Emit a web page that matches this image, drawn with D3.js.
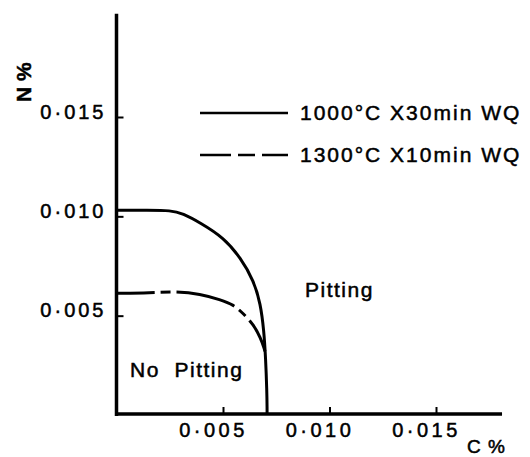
<!DOCTYPE html>
<html>
<head>
<meta charset="utf-8">
<script src="https://cdnjs.cloudflare.com/ajax/libs/d3/7.8.5/d3.min.js"></script>
<style>
body { margin: 0; background: #fff; }
svg text { font-family: "Liberation Sans", Arial, sans-serif; fill: #000; stroke: #000; stroke-width: 0.5px; }
</style>
</head>
<body>
<div id="chart"></div>
<script>
(function(){

var width = 530,
	height = 457;

// tick values
var xTicks = [0.005, 0.010, 0.015],
	yTicks = [0.005, 0.010, 0.015];

// 1000°C x 30 min WQ boundary (C %, N %)
var solidC = [0, 0.0015, 0.00255, 0.0031, 0.00394, 0.00504, 0.00582, 0.00645, 0.00676, 0.00692, 0.0070, 0.00706, 0.00707, 0.00707],
	solidN = [0.0103, 0.0103, 0.0103, 0.01015, 0.00967, 0.00892, 0.00792, 0.00675, 0.0056, 0.00425, 0.0029, 0.0012, 0.0003, 0];

// 1300°C x 10 min WQ boundary
var dashC = [0, 0.0016, 0.00277, 0.00394, 0.00488, 0.0055, 0.00596, 0.00643, 0.00676, 0.00695, 0.00697],
	dashN = [0.00613, 0.00615, 0.00622, 0.0061, 0.0058, 0.00555, 0.0051, 0.00455, 0.0039, 0.0033, 0.0032];

var legendNames = ["1000°C X30min WQ", "1300°C X10min WQ"];

var svg = d3.select("#chart").append("svg")
	.attr("width", width)
	.attr("height", height);

var X = d3.scaleLinear().domain([0, 0.015]).range([116.5, 436]);
var Y = d3.scaleLinear().domain([0, 0.015]).range([415, 117]);

var fmt = function(d){ return d3.format(".3f")(d).replace(".", "·"); };

// axes lines
svg.append("line")
	.attr("x1", X(0)).attr("x2", X(0))
	.attr("y1", Y(0) + 1).attr("y2", Y(0.0202))
	.attr("stroke", "#000").attr("stroke-width", 3.5);
svg.append("line")
	.attr("x1", X(0) - 1.5).attr("x2", X(0.0181))
	.attr("y1", Y(0) - 1).attr("y2", Y(0) - 1)
	.attr("stroke", "#000").attr("stroke-width", 3.5);

// y axis ticks
var yAxis = svg.append("g")
	.attr("transform", "translate(" + X(0) + ",0)")
	.call(d3.axisLeft(Y).tickValues(yTicks).tickSize(-7).tickPadding(13).tickFormat(fmt));
yAxis.select(".domain").remove();
yAxis.selectAll("line").attr("stroke-width", 2);
yAxis.selectAll("text")
	.attr("dy", "0.05em")
	.attr("dx", 3)
	.style("font-size", "20px")
	.style("letter-spacing", "3px")
	.style("font-family", "'Liberation Sans', Arial, sans-serif");

// x axis ticks
var xAxis = svg.append("g")
	.attr("transform", "translate(0," + (Y(0) - 1) + ")")
	.call(d3.axisBottom(X).tickValues(xTicks).tickSize(-7).tickPadding(9).tickFormat(fmt));
xAxis.select(".domain").remove();
xAxis.selectAll("line").attr("stroke-width", 2);
xAxis.selectAll("text")
	.attr("dx", -10)
	.attr("dy", "0.71em")
	.style("font-size", "20px")
	.style("letter-spacing", "3.5px")
	.style("font-family", "'Liberation Sans', Arial, sans-serif");

// axis titles
svg.append("text")
	.attr("transform", "translate(31,102) rotate(-90)")
	.style("font-size", "21px")
	.style("font-weight", "bold")
	.text("N %");
svg.append("text")
	.attr("x", 467).attr("y", 453)
	.style("font-size", "19px")
	.style("letter-spacing", "1px")
	.text("C %");

// curves
var line = d3.line()
	.x(function(d){ return X(d[0]); })
	.y(function(d){ return Y(d[1]); })
	.curve(d3.curveBasis);

svg.append("path")
	.datum(d3.zip(solidC, solidN))
	.attr("d", line)
	.attr("fill", "none")
	.attr("stroke", "#000")
	.attr("stroke-width", 3);

svg.append("path")
	.datum(d3.zip(dashC, dashN))
	.attr("d", line)
	.attr("fill", "none")
	.attr("stroke", "#000")
	.attr("stroke-width", 3)
	.attr("stroke-dasharray", "38,6,10,6,60,6,9,6,60");

// legend
var legend = svg.selectAll(".legend").data(legendNames).enter().append("g")
	.attr("class", "legend")
	.attr("transform", function(d, i){ return "translate(200," + (113 + i * 42) + ")"; });
legend.append("line")
	.attr("x1", 0).attr("x2", 88)
	.attr("stroke", "#000")
	.attr("stroke-width", 2.5)
	.attr("stroke-dasharray", function(d, i){ return i == 0 ? null : "31,7,17,7,26"; });
legend.append("text")
	.attr("x", 100).attr("y", 7)
	.style("font-size", "21px")
	.style("letter-spacing", "2px")
	.text(function(d){ return d; });

// region labels
svg.append("text")
	.attr("x", 305).attr("y", 297)
	.style("font-size", "21px")
	.style("letter-spacing", "1.5px")
	.text("Pitting");
svg.append("text")
	.attr("x", 130).attr("y", 377)
	.style("font-size", "21px")
	.style("letter-spacing", "1.5px")
	.style("white-space", "pre")
	.text("No  Pitting");

})();
</script>
</body>
</html>
